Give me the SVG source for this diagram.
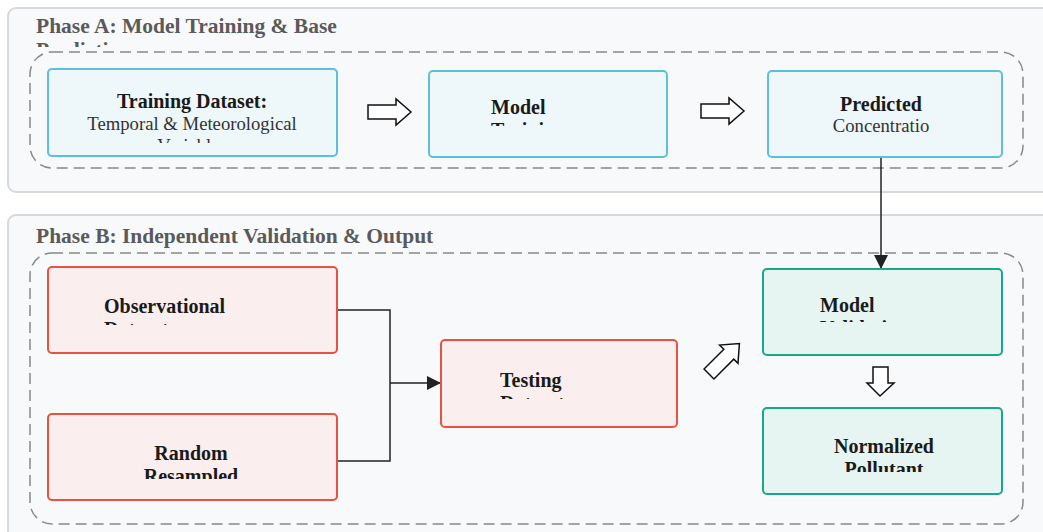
<svg xmlns="http://www.w3.org/2000/svg" width="1043" height="532" viewBox="0 0 1043 532">
  <style>
    .panel { fill: #f8f9fb; stroke: #d6d9de; stroke-width: 2; }
    .group { fill: none; stroke: #888; stroke-width: 1.5; stroke-dasharray: 11 6; }
    .title { font-family: "Liberation Serif", serif; font-weight: bold; font-size: 21.5px; fill: #5a5a5a; }
    .blue { fill: #eef7fa; stroke: #5bc0d8; stroke-width: 2; }
    .red { fill: #fbeeee; stroke: #e8533f; stroke-width: 2; }
    .green { fill: #e6f5f1; stroke: #17a88b; stroke-width: 2; }
    .h { font-family: "Liberation Serif", serif; font-weight: bold; font-size: 20px; fill: #1a1a1a; }
    .s { font-family: "Liberation Serif", serif; font-size: 18.7px; fill: #333; }
    .wire { fill: none; stroke: #222; stroke-width: 1.5; }
    .block { fill: #fff; stroke: #111; stroke-width: 1.5; stroke-linejoin: miter; }
  </style>
  <defs>
    <marker id="tip" viewBox="0 0 10 10" refX="10" refY="5" markerWidth="14" markerHeight="14" markerUnits="userSpaceOnUse" orient="auto">
      <path d="M0,0 L10,5 L0,10 z" fill="#222"/>
    </marker>
    <path id="blockArrow" d="M0,-7 L28,-7 L28,-13 L43,0 L28,13 L28,7 L0,7 z"/>
    <clipPath id="cpA"><rect x="0" y="0" width="1043" height="47"/></clipPath>
    <clipPath id="cpB"><rect x="0" y="215" width="1043" height="36"/></clipPath>
    <clipPath id="cTrain"><rect x="48" y="69" width="289" height="74"/></clipPath>
    <clipPath id="cModel"><rect x="429" y="71" width="238" height="55"/></clipPath>
    <clipPath id="cPred"><rect x="768" y="71" width="234" height="66"/></clipPath>
    <clipPath id="cObs"><rect x="48" y="267" width="289" height="58"/></clipPath>
    <clipPath id="cRand"><rect x="48" y="414" width="289" height="65"/></clipPath>
    <clipPath id="cTest"><rect x="441" y="340" width="236" height="59"/></clipPath>
    <clipPath id="cVal"><rect x="763" y="269" width="239" height="53"/></clipPath>
    <clipPath id="cNorm"><rect x="763" y="408" width="239" height="64"/></clipPath>
  </defs>

  <!-- phase panels -->
  <g id="phaseA">
    <rect class="panel" x="8" y="8" width="1060" height="184" rx="8"/>
    <g clip-path="url(#cpA)">
      <text class="title" x="36" y="33">Phase A: Model Training &amp; Base</text>
      <text class="title" x="36" y="57">Prediction</text>
    </g>
    <rect class="group" x="30" y="52" width="993" height="116" rx="22"/>
  </g>
  <g id="phaseB">
    <rect class="panel" x="8" y="215" width="1060" height="330" rx="8"/>
    <g clip-path="url(#cpB)">
      <text class="title" x="36" y="243">Phase B: Independent Validation &amp; Output</text>
    </g>
    <rect class="group" x="30" y="253" width="993" height="271" rx="22"/>
  </g>

  <!-- connectors -->
  <g id="connectors">
    <path class="wire" d="M881,157 L881,269" marker-end="url(#tip)"/>
    <path class="wire" d="M337,310 L390,310 L390,461 L337,461"/>
    <path class="wire" d="M390,383 L441,383" marker-end="url(#tip)"/>
    <use href="#blockArrow" class="block" transform="translate(368,112)"/>
    <use href="#blockArrow" class="block" transform="translate(701,111)"/>
    <use href="#blockArrow" class="block" transform="translate(709,374) rotate(-45)"/>
    <path class="block" d="M873,367 L888,367 L888,383 L894,383 L880,396 L867,383 L873,383 z"/>
  </g>

  <!-- nodes -->
  <g id="training-dataset">
    <rect class="blue" x="48" y="69" width="289" height="87" rx="4"/>
    <g clip-path="url(#cTrain)">
      <text class="h" x="192" y="108" text-anchor="middle">Training Dataset:</text>
      <text class="s" x="192" y="130" text-anchor="middle">Temporal &amp; Meteorological</text>
      <text class="s" x="192" y="152" text-anchor="middle">Variables</text>
    </g>
  </g>
  <g id="model-training">
    <rect class="blue" x="429" y="71" width="238" height="86" rx="4"/>
    <g clip-path="url(#cModel)">
      <text class="h" x="491" y="114">Model</text>
      <text class="h" x="491" y="137">Training</text>
    </g>
  </g>
  <g id="predicted">
    <rect class="blue" x="768" y="71" width="234" height="86" rx="4"/>
    <g clip-path="url(#cPred)">
      <text class="h" x="881" y="111" text-anchor="middle">Predicted</text>
      <text class="s" x="881" y="132" text-anchor="middle">Concentratio</text>
      <text class="s" x="881" y="153" text-anchor="middle">n</text>
    </g>
  </g>
  <g id="observational">
    <rect class="red" x="48" y="267" width="289" height="86" rx="4"/>
    <g clip-path="url(#cObs)">
      <text class="h" x="104" y="313">Observational</text>
      <text class="h" x="104" y="336">Dataset</text>
    </g>
  </g>
  <g id="random-resampled">
    <rect class="red" x="48" y="414" width="289" height="86" rx="4"/>
    <g clip-path="url(#cRand)">
      <text class="h" x="191" y="460" text-anchor="middle">Random</text>
      <text class="h" x="191" y="483" text-anchor="middle">Resampled</text>
    </g>
  </g>
  <g id="testing">
    <rect class="red" x="441" y="340" width="236" height="87" rx="4"/>
    <g clip-path="url(#cTest)">
      <text class="h" x="500" y="387">Testing</text>
      <text class="h" x="500" y="410">Dataset</text>
    </g>
  </g>
  <g id="model-validation">
    <rect class="green" x="763" y="269" width="239" height="86" rx="4"/>
    <g clip-path="url(#cVal)">
      <text class="h" x="820" y="312">Model</text>
      <text class="h" x="820" y="335">Validation</text>
    </g>
  </g>
  <g id="normalized">
    <rect class="green" x="763" y="408" width="239" height="86" rx="4"/>
    <g clip-path="url(#cNorm)">
      <text class="h" x="884" y="453" text-anchor="middle">Normalized</text>
      <text class="h" x="884" y="476" text-anchor="middle">Pollutant</text>
    </g>
  </g>
</svg>
